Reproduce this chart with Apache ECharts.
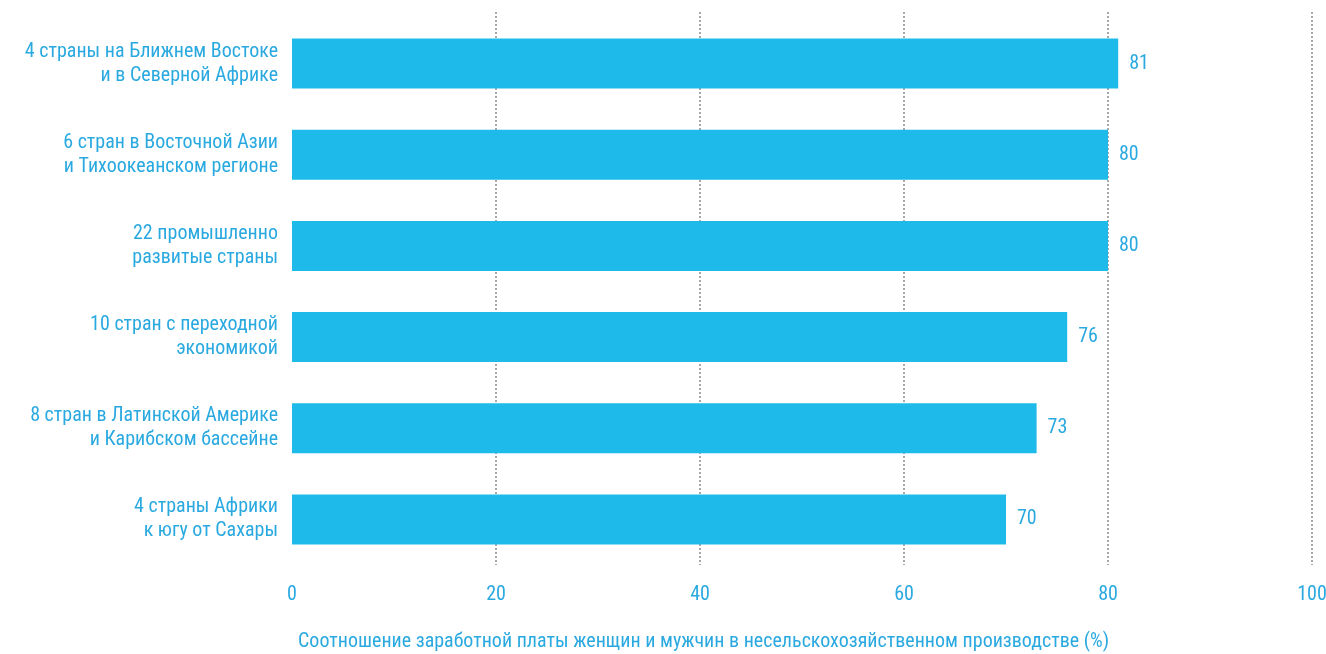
<!DOCTYPE html>
<html>
<head>
<meta charset="utf-8">
<script src="https://cdn.jsdelivr.net/npm/echarts@6/dist/echarts.min.js"></script>
<style>
  html, body { margin: 0; padding: 0; background: #fff; }
  #chart { width: 1326px; height: 654px; }
</style>
</head>
<body>
<div id="chart"></div>
<script>
// Regions (top to bottom)
const regions = [
  '4 страны на Ближнем Востоке\nи в Северной Африке',
  '6 стран в Восточной Азии\nи Тихоокеанском регионе',
  '22 промышленно\nразвитые страны',
  '10 стран с переходной\nэкономикой',
  '8 стран в Латинской Америке\nи Карибском бассейне',
  '4 страны Африки\nк югу от Сахары'
];
// Women's to men's wage ratio, %
const ratios = [81, 80, 80, 76, 73, 70];
const xTicks = [0, 20, 40, 60, 80, 100];
const axisTitle = 'Соотношение заработной платы женщин и мужчин в несельскохозяйственном производстве (%)';

const FONT = 'Roboto, "Noto Sans", sans-serif';
const WEIGHT = 'normal condensed';
const TEXT = '#2aa9e0';
const BAR = '#1ebbea';

const chart = echarts.init(document.getElementById('chart'));
chart.setOption({
  animation: false,
  textStyle: { fontFamily: FONT },
  title: {
    text: axisTitle,
    left: 293,
    top: 627,
    textStyle: { fontFamily: FONT, fontSize: 20, fontWeight: WEIGHT, color: TEXT }
  },
  grid: [
    // plot area for the bars
    { left: 292, right: 14, top: 18, bottom: 89, containLabel: false, outerBoundsMode: 'none' },
    // taller area carrying only the dotted vertical gridlines
    { left: 292, right: 14, top: 12, bottom: 89, containLabel: false, outerBoundsMode: 'none' }
  ],
  xAxis: [
    {
      gridIndex: 0, type: 'value', min: xTicks[0], max: xTicks[xTicks.length - 1], interval: 20,
      axisLine: { show: false }, axisTick: { show: false }, splitLine: { show: false },
      axisLabel: { margin: 20, fontSize: 20, fontWeight: WEIGHT, color: TEXT, fontFamily: FONT }
    },
    {
      gridIndex: 1, type: 'value', min: xTicks[0], max: xTicks[xTicks.length - 1], interval: 20,
      axisLine: { show: false }, axisTick: { show: false }, axisLabel: { show: false },
      splitLine: { show: true, showMinLine: false, lineStyle: { color: '#8a8a8a', width: 1.5, type: [2, 2] } }
    }
  ],
  yAxis: [
    {
      gridIndex: 0, type: 'category', data: regions, inverse: true,
      axisLine: { show: false }, axisTick: { show: false },
      axisLabel: { margin: 14, fontSize: 20, fontWeight: WEIGHT, lineHeight: 24, color: TEXT, fontFamily: FONT, align: 'right' }
    },
    {
      gridIndex: 1, type: 'category', data: regions, inverse: true, show: false
    }
  ],
  series: [
    {
      type: 'bar', xAxisIndex: 0, yAxisIndex: 0, z: 3,
      data: ratios, barWidth: 50,
      itemStyle: { color: BAR },
      label: {
        show: true, position: 'right', distance: 11,
        fontSize: 20, fontWeight: WEIGHT, color: TEXT, fontFamily: FONT
      }
    }
  ]
});
</script>
</body>
</html>
